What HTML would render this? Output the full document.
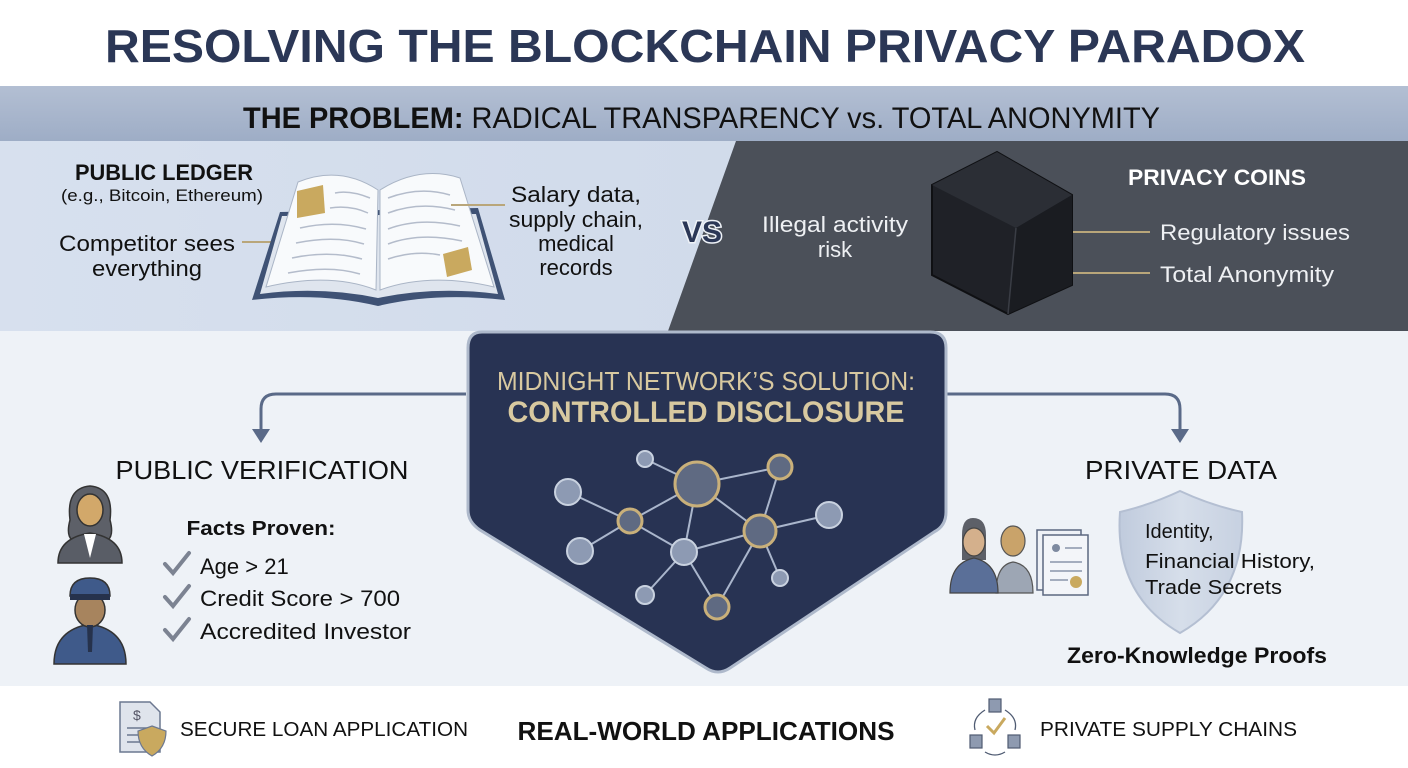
<!DOCTYPE html>
<html><head><meta charset="utf-8"><style>
html,body{margin:0;padding:0;background:#fff}
svg{display:block}
text{font-family:"Liberation Sans",sans-serif}
</style></head><body>
<svg width="1408" height="768" viewBox="0 0 1408 768" xmlns="http://www.w3.org/2000/svg">
<defs>
<linearGradient id="ban" x1="0" y1="0" x2="0" y2="1"><stop offset="0" stop-color="#b3bfd3"/><stop offset="1" stop-color="#9eadc6"/></linearGradient>
<linearGradient id="lp" x1="0" y1="0" x2="1" y2="0"><stop offset="0" stop-color="#d7e0ee"/><stop offset="1" stop-color="#cbd6e7"/></linearGradient>
<linearGradient id="sh" x1="0" y1="0" x2="1" y2="0"><stop offset="0" stop-color="#c0cbdd"/><stop offset="0.5" stop-color="#d6deea"/><stop offset="1" stop-color="#c7d1e1"/></linearGradient>
</defs>
<rect width="1408" height="768" fill="#fff"/>
<text x="705" y="62" font-size="46" font-weight="bold" fill="#2b3756" text-anchor="middle" textLength="1200" lengthAdjust="spacingAndGlyphs">RESOLVING THE BLOCKCHAIN PRIVACY PARADOX</text>
<rect x="0" y="86" width="1408" height="55" fill="url(#ban)"/>
<text x="243" y="128" font-size="30" fill="#111" textLength="917" lengthAdjust="spacingAndGlyphs"><tspan font-weight="bold">THE PROBLEM:</tspan> RADICAL TRANSPARENCY vs. TOTAL ANONYMITY</text>
<rect x="0" y="141" width="1408" height="190" fill="url(#lp)"/>
<polygon points="736,141 1408,141 1408,331 668,331" fill="#4b5059"/>
<rect x="0" y="331" width="1408" height="355" fill="#eef2f7"/>
<rect x="0" y="686" width="1408" height="82" fill="#fff"/>

<!-- left problem -->
<text x="164" y="180" font-size="22" font-weight="bold" fill="#111" text-anchor="middle" textLength="178" lengthAdjust="spacingAndGlyphs">PUBLIC LEDGER</text>
<text x="162" y="201" font-size="17" fill="#111" text-anchor="middle" textLength="202" lengthAdjust="spacingAndGlyphs">(e.g., Bitcoin, Ethereum)</text>
<text x="147" y="251" font-size="22" fill="#111" text-anchor="middle" textLength="176" lengthAdjust="spacingAndGlyphs">Competitor sees</text>
<text x="147" y="276" font-size="22" fill="#111" text-anchor="middle" textLength="110" lengthAdjust="spacingAndGlyphs">everything</text>
<line x1="242" y1="242" x2="300" y2="242" stroke="#b9a67a" stroke-width="2"/>
<!-- book -->
<path d="M280,212 L252,300 Q320,292 378,306 Q436,292 505,300 L478,208 Z" fill="#3f5275"/>
<path d="M260,294 Q320,286 378,298 Q436,286 498,294 L476,214 L282,216 Z" fill="#dfe5ee"/>
<path d="M376,290 Q330,272 266,287 L298,182 Q340,165 378,190 Z" fill="#f8fafc" stroke="#aab5c6"/>
<path d="M380,290 Q430,272 494,287 L460,178 Q420,165 380,190 Z" fill="#f8fafc" stroke="#aab5c6"/>
<g stroke="#b4bccb" stroke-width="1.5" fill="none">
<path d="M335,193 Q350,190 370,198 M330,208 Q350,205 368,213 M300,228 Q335,220 366,229 M296,243 Q335,235 364,244 M292,258 Q330,250 362,259 M288,273 Q330,265 360,274"/>
<path d="M388,198 Q420,186 450,195 M388,213 Q420,201 455,210 M388,229 Q420,217 460,226 M388,244 Q420,232 462,241 M388,259 Q415,250 440,255"/>
</g>
<polygon points="297,191 323,185 325,213 297,218" fill="#c9a95f"/>
<polygon points="443,254 468,247 472,270 447,277" fill="#c9a95f"/>
<line x1="451" y1="205" x2="505" y2="205" stroke="#b9a67a" stroke-width="2"/>
<g font-size="22" fill="#111" text-anchor="middle">
<text x="576" y="202" textLength="130" lengthAdjust="spacingAndGlyphs">Salary data,</text>
<text x="576" y="227" textLength="134" lengthAdjust="spacingAndGlyphs">supply chain,</text>
<text x="576" y="251">medical</text>
<text x="576" y="275">records</text>
</g>
<text x="702" y="242" font-size="30" font-weight="bold" fill="#2b3756" stroke="#eef2f7" stroke-width="3" paint-order="stroke" text-anchor="middle">VS</text>
<g font-size="22" fill="#eef0f3" text-anchor="middle">
<text x="835" y="232" textLength="146" lengthAdjust="spacingAndGlyphs">Illegal activity</text>
<text x="835" y="257">risk</text>
</g>
<!-- cube -->
<polygon points="997,152 932,185 932,275 1008,314 1072,285 1072,195" fill="#1f2127" stroke="#0f1013" stroke-width="2"/>
<polygon points="997,152 932,185 1016,228 1072,195" fill="#2b2e35"/>
<polygon points="1016,228 1072,195 1072,285 1008,314" fill="#1a1c21"/>
<line x1="1016" y1="228" x2="1008" y2="314" stroke="#3a3d45" stroke-width="1.5"/>
<text x="1217" y="185" font-size="22" font-weight="bold" fill="#fff" text-anchor="middle" textLength="178" lengthAdjust="spacingAndGlyphs">PRIVACY COINS</text>
<line x1="1073" y1="232" x2="1150" y2="232" stroke="#b9a67a" stroke-width="2"/>
<line x1="1073" y1="273" x2="1150" y2="273" stroke="#b9a67a" stroke-width="2"/>
<text x="1160" y="240" font-size="22" fill="#eef0f3" textLength="190" lengthAdjust="spacingAndGlyphs">Regulatory issues</text>
<text x="1160" y="282" font-size="22" fill="#eef0f3" textLength="174" lengthAdjust="spacingAndGlyphs">Total Anonymity</text>

<!-- arrows -->
<g stroke="#5a6a88" stroke-width="3" fill="none">
<path d="M466,394 H276 Q261,394 261,409 V430"/>
<path d="M946,394 H1165 Q1180,394 1180,409 V430"/>
</g>
<polygon points="252,429 270,429 261,443" fill="#5a6a88"/>
<polygon points="1171,429 1189,429 1180,443" fill="#5a6a88"/>

<!-- pentagon -->
<path d="M482,332 H930 Q946,332 946,348 V512 Q946,526 934,532 L730,668 Q718,676 706,668 L480,530 Q468,522 468,510 V348 Q468,332 482,332 Z" fill="#283353" stroke="#aeb9cb" stroke-width="3"/>
<text x="706" y="390" font-size="26" fill="#d8c9a0" text-anchor="middle" textLength="418" lengthAdjust="spacingAndGlyphs">MIDNIGHT NETWORK’S SOLUTION:</text>
<text x="706" y="422" font-size="30" font-weight="bold" fill="#d8c9a0" text-anchor="middle" textLength="397" lengthAdjust="spacingAndGlyphs">CONTROLLED DISCLOSURE</text>
<g stroke="#aab6cc" stroke-width="2">
<line x1="645" y1="459" x2="697" y2="484"/><line x1="697" y1="484" x2="780" y2="467"/>
<line x1="568" y1="492" x2="630" y2="521"/><line x1="630" y1="521" x2="697" y2="484"/>
<line x1="580" y1="551" x2="630" y2="521"/><line x1="630" y1="521" x2="684" y2="552"/>
<line x1="697" y1="484" x2="684" y2="552"/><line x1="697" y1="484" x2="760" y2="531"/>
<line x1="780" y1="467" x2="760" y2="531"/><line x1="760" y1="531" x2="829" y2="515"/>
<line x1="684" y1="552" x2="760" y2="531"/><line x1="684" y1="552" x2="645" y2="595"/>
<line x1="684" y1="552" x2="717" y2="607"/><line x1="760" y1="531" x2="717" y2="607"/>
<line x1="760" y1="531" x2="780" y2="578"/>
</g>
<g stroke="#c9b07a" stroke-width="3" fill="#5f6a82">
<circle cx="697" cy="484" r="22"/><circle cx="780" cy="467" r="12"/><circle cx="630" cy="521" r="12"/>
<circle cx="760" cy="531" r="16"/><circle cx="717" cy="607" r="12"/>
</g>
<g stroke="#c9d2e0" stroke-width="2" fill="#8d9ab3">
<circle cx="645" cy="459" r="8"/><circle cx="568" cy="492" r="13"/><circle cx="829" cy="515" r="13"/>
<circle cx="580" cy="551" r="13"/><circle cx="684" cy="552" r="13"/><circle cx="645" cy="595" r="9"/><circle cx="780" cy="578" r="8"/>
</g>

<!-- public verification -->
<text x="262" y="479" font-size="26" fill="#111" text-anchor="middle" textLength="293" lengthAdjust="spacingAndGlyphs">PUBLIC VERIFICATION</text>
<!-- woman -->
<path d="M70,520 Q66,488 90,486 Q114,488 110,520 Q114,535 108,540 L72,540 Q66,535 70,520 Z" fill="#5d6068" stroke="#333" stroke-width="1.5"/>
<ellipse cx="90" cy="510" rx="13" ry="16" fill="#d2a86a" stroke="#333" stroke-width="1.5"/>
<path d="M58,563 Q58,538 90,533 Q122,538 122,563 Z" fill="#595d66" stroke="#333" stroke-width="1.5"/>
<polygon points="84,534 96,534 90,558" fill="#fff"/>
<!-- officer -->
<path d="M54,664 Q54,630 90,624 Q126,630 126,664 Z" fill="#3f5a8a" stroke="#333" stroke-width="1.5"/>
<ellipse cx="90" cy="610" rx="15" ry="17" fill="#a7845e" stroke="#333" stroke-width="1.5"/>
<path d="M70,596 Q70,578 90,578 Q110,578 110,596 Z" fill="#3f5a8a" stroke="#333" stroke-width="1.5"/>
<rect x="70" y="594" width="40" height="6" fill="#26324c"/>
<polygon points="87,625 93,625 92,652 88,652" fill="#26324c"/>
<text x="261" y="535" font-size="20" font-weight="bold" fill="#111" text-anchor="middle" textLength="149" lengthAdjust="spacingAndGlyphs">Facts Proven:</text>
<g stroke="#7c8392" stroke-width="4" fill="none" stroke-linecap="round">
<path d="M165,564 L173,573 L189,553"/><path d="M165,597 L173,606 L189,586"/><path d="M165,630 L173,639 L189,619"/>
</g>
<g font-size="22" fill="#111">
<text x="200" y="574">Age &gt; 21</text>
<text x="200" y="606" textLength="200" lengthAdjust="spacingAndGlyphs">Credit Score &gt; 700</text>
<text x="200" y="639" textLength="211" lengthAdjust="spacingAndGlyphs">Accredited Investor</text>
</g>

<!-- private data -->
<text x="1181" y="479" font-size="26" fill="#111" text-anchor="middle" textLength="192" lengthAdjust="spacingAndGlyphs">PRIVATE DATA</text>
<path d="M1180,491 Q1210,505 1242,512 Q1246,595 1180,633 Q1114,595 1120,512 Q1150,505 1180,491 Z" fill="url(#sh)" stroke="#b4bfd2" stroke-width="2"/>
<g font-size="20" fill="#111">
<text x="1145" y="538">Identity,</text>
<text x="1145" y="568" textLength="170" lengthAdjust="spacingAndGlyphs">Financial History,</text>
<text x="1145" y="594" textLength="137" lengthAdjust="spacingAndGlyphs">Trade Secrets</text>
</g>
<text x="1197" y="663" font-size="22" font-weight="bold" fill="#111" text-anchor="middle" textLength="260" lengthAdjust="spacingAndGlyphs">Zero-Knowledge Proofs</text>
<!-- people -->
<path d="M996,593 Q996,565 1013,562 Q1033,565 1033,593 Z" fill="#9da6b4" stroke="#555" stroke-width="1.2"/>
<ellipse cx="1013" cy="541" rx="12" ry="15" fill="#c9a36a" stroke="#555" stroke-width="1.2"/>
<path d="M962,535 Q962,518 973,518 Q986,518 986,535 L986,560 L962,560 Z" fill="#5d6068"/>
<ellipse cx="974" cy="542" rx="11" ry="14" fill="#d4b08c" stroke="#444" stroke-width="1.2"/>
<path d="M950,593 Q950,563 974,558 Q998,563 998,593 Z" fill="#5a6f98" stroke="#444" stroke-width="1.2"/>
<rect x="1037" y="530" width="44" height="60" fill="#eef1f6" stroke="#5c6880" stroke-width="1.5"/>
<rect x="1043" y="535" width="45" height="60" fill="#f3f5f9" stroke="#5c6880" stroke-width="1.5"/>
<circle cx="1056" cy="548" r="4" fill="#7e8aa0"/>
<g stroke="#8a95aa" stroke-width="1.5"><line x1="1065" y1="548" x2="1082" y2="548"/><line x1="1050" y1="562" x2="1082" y2="562"/><line x1="1050" y1="571" x2="1082" y2="571"/><line x1="1050" y1="580" x2="1068" y2="580"/></g>
<circle cx="1076" cy="582" r="6" fill="#c9a95f"/>

<!-- bottom -->
<path d="M120,702 H150 L160,712 V752 H120 Z" fill="#dfe4ec" stroke="#6c7890" stroke-width="1.5"/>
<text x="133" y="720" font-size="14" fill="#556">$</text>
<g stroke="#6c7890" stroke-width="1.5"><line x1="127" y1="728" x2="150" y2="728"/><line x1="127" y1="735" x2="145" y2="735"/><line x1="127" y1="742" x2="145" y2="742"/></g>
<path d="M152,726 L166,731 Q166,748 152,756 Q138,748 138,731 Z" fill="#c9a95f" stroke="#6c7890" stroke-width="1.2"/>
<text x="180" y="736" font-size="20" fill="#111" textLength="288" lengthAdjust="spacingAndGlyphs">SECURE LOAN APPLICATION</text>
<text x="706" y="740" font-size="26" font-weight="bold" fill="#111" text-anchor="middle" textLength="377" lengthAdjust="spacingAndGlyphs">REAL-WORLD APPLICATIONS</text>
<g fill="#8e9ab0" stroke="#4f5b72" stroke-width="1.2">
<rect x="989" y="699" width="12" height="13"/><rect x="970" y="735" width="12" height="13"/><rect x="1008" y="735" width="12" height="13"/>
</g>
<g stroke="#4f5b72" stroke-width="1.3" fill="none">
<path d="M985,710 Q972,718 975,730"/><path d="M1005,710 Q1018,718 1015,730"/><path d="M985,752 Q995,758 1005,752"/>
</g>
<path d="M987,726 L994,733 L1005,718" stroke="#c9a95f" stroke-width="3" fill="none"/>
<text x="1040" y="736" font-size="20" fill="#111" textLength="257" lengthAdjust="spacingAndGlyphs">PRIVATE SUPPLY CHAINS</text>
</svg>
</body></html>
